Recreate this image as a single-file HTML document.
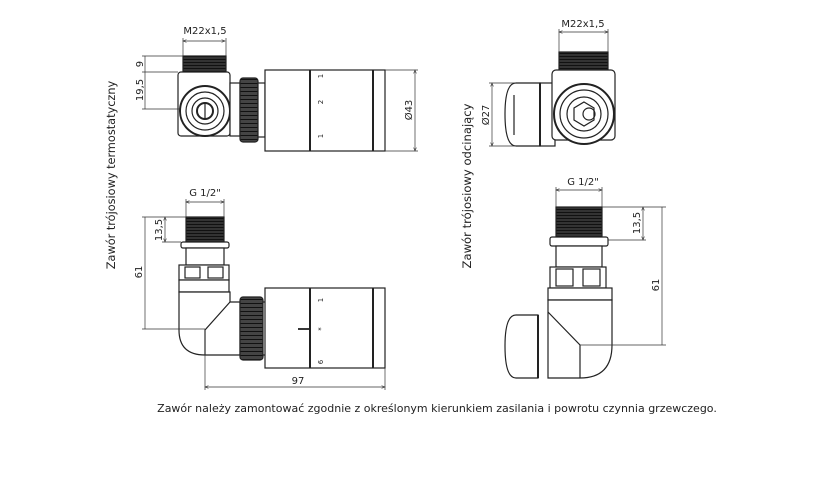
<!DOCTYPE html>
<html><head><meta charset="utf-8"><style>
html,body{margin:0;padding:0;background:#fff;}
svg{display:block;}
text{font-family:"DejaVu Sans","Liberation Sans",sans-serif;fill:#222;}
</style></head><body>
<svg width="817" height="490" viewBox="0 0 817 490" xmlns="http://www.w3.org/2000/svg">
<defs>
<pattern id="thr" width="4" height="3" patternUnits="userSpaceOnUse"><rect width="4" height="3" fill="#333"/><rect y="2" width="4" height="1" fill="#111"/></pattern>
<pattern id="knurl" width="3" height="4" patternUnits="userSpaceOnUse"><rect width="3" height="4" fill="#444"/><rect y="3" width="3" height="1" fill="#111"/></pattern>
<marker id="a" markerWidth="6" markerHeight="6" refX="5" refY="3" orient="auto-start-reverse"><path d="M0,1 L5,3 L0,5" fill="none" stroke="#333" stroke-width="0.8"/></marker>
</defs>
<g fill="none" stroke="#222" stroke-width="1.2">
<!-- TOP LEFT -->
<rect x="183" y="56" width="43" height="16" fill="url(#thr)"/>
<rect x="178" y="72" width="52" height="64" rx="3" fill="#fff"/>
<circle cx="205" cy="111" r="25" fill="#fff" stroke-width="2"/>
<circle cx="205" cy="111" r="19"/>
<circle cx="205" cy="111" r="13"/>
<circle cx="205" cy="111" r="8" stroke-width="2"/>
<line x1="205" y1="103" x2="205" y2="119"/>
<rect x="230" y="83" width="10" height="53" fill="#fff"/>
<rect x="240" y="78" width="18" height="64" rx="3" fill="url(#knurl)"/>
<rect x="258" y="83" width="7" height="54" fill="#fff"/>
<rect x="265" y="70" width="120" height="81" fill="#fff"/>
<line x1="310" y1="70" x2="310" y2="151" stroke-width="2"/>
<line x1="373" y1="70" x2="373" y2="151" stroke-width="2"/>
<!-- BOTTOM LEFT -->
<rect x="186" y="217" width="38" height="25" fill="url(#thr)"/>
<rect x="181" y="242" width="48" height="6" rx="2" fill="#fff"/>
<rect x="186" y="248" width="38" height="17" fill="#fff"/>
<rect x="179" y="265" width="50" height="15" fill="#fff"/>
<rect x="185" y="267" width="15" height="11"/>
<rect x="208" y="267" width="15" height="11"/>
<rect x="179" y="280" width="50" height="12" fill="#fff"/>
<path d="M179,292 H230 V302 H240 V355 H205 Q179,355 179,330 Z" fill="#fff"/>
<path d="M230,302 L205,330 V355"/>
<rect x="240" y="297" width="23" height="63" rx="3" fill="url(#knurl)"/>
<rect x="263" y="302" width="4" height="53" fill="#fff"/>
<rect x="265" y="288" width="120" height="80" fill="#fff"/>
<line x1="310" y1="288" x2="310" y2="368" stroke-width="2"/>
<line x1="373" y1="288" x2="373" y2="368" stroke-width="2"/>
<line x1="298" y1="329" x2="310" y2="329" stroke-width="1.8"/>
<!-- TOP RIGHT -->
<rect x="559" y="52" width="49" height="18" fill="url(#thr)"/>
<path d="M540,83 H516 Q505,83 505,114 Q505,146 516,146 H540 Z" fill="#fff"/>
<line x1="514" y1="95" x2="514" y2="135"/>
<rect x="540" y="83" width="15" height="63" fill="#fff"/>
<line x1="540" y1="83" x2="540" y2="146" stroke-width="2"/>
<rect x="552" y="70" width="63" height="70" rx="4" fill="#fff"/>
<circle cx="584" cy="114" r="30" fill="#fff" stroke-width="2"/>
<circle cx="584" cy="114" r="24"/>
<circle cx="584" cy="114" r="17"/>
<polygon points="584,102 594,108 594,120 584,126 574,120 574,108"/>
<circle cx="589" cy="114" r="6"/>
<!-- BOTTOM RIGHT -->
<rect x="556" y="207" width="46" height="30" fill="url(#thr)"/>
<rect x="550" y="237" width="58" height="9" rx="2" fill="#fff"/>
<rect x="556" y="246" width="46" height="21" fill="#fff"/>
<rect x="550" y="267" width="56" height="21" fill="#fff"/>
<rect x="556" y="269" width="17" height="17"/>
<rect x="583" y="269" width="17" height="17"/>
<rect x="548" y="288" width="64" height="12" fill="#fff"/>
<path d="M548,300 H612 V345 Q612,378 580,378 H548 Z" fill="#fff"/>
<path d="M548,312 L580,345 V378"/>
<path d="M538,315 H516 Q505,315 505,346 Q505,378 516,378 H538 Z" fill="#fff"/>
<line x1="538" y1="315" x2="538" y2="378" stroke-width="2"/>
</g>
<!-- dimensions -->
<g stroke="#333" stroke-width="0.7" fill="none">
<line x1="183" y1="41" x2="225" y2="41" marker-start="url(#a)" marker-end="url(#a)"/>
<line x1="183" y1="38" x2="183" y2="56"/><line x1="226" y1="38" x2="226" y2="56"/>
<line x1="142" y1="56" x2="183" y2="56"/><line x1="142" y1="72" x2="178" y2="72"/><line x1="142" y1="109" x2="180" y2="109"/>
<line x1="145" y1="56" x2="145" y2="109"/>
<line x1="385" y1="70" x2="418" y2="70"/><line x1="385" y1="151" x2="418" y2="151"/>
<line x1="415" y1="70" x2="415" y2="151" marker-start="url(#a)" marker-end="url(#a)"/>
<line x1="186" y1="202" x2="224" y2="202" marker-start="url(#a)" marker-end="url(#a)"/>
<line x1="186" y1="199" x2="186" y2="217"/><line x1="224" y1="199" x2="224" y2="217"/>
<line x1="142" y1="217" x2="186" y2="217"/><line x1="162" y1="242" x2="181" y2="242"/>
<line x1="165" y1="217" x2="165" y2="242" marker-start="url(#a)" marker-end="url(#a)"/>
<line x1="145" y1="217" x2="145" y2="329"/><line x1="142" y1="329" x2="205" y2="329"/>
<line x1="205" y1="330" x2="205" y2="390"/><line x1="385" y1="368" x2="385" y2="390"/>
<line x1="205" y1="387" x2="385" y2="387" marker-start="url(#a)" marker-end="url(#a)"/>
<line x1="559" y1="32" x2="608" y2="32" marker-start="url(#a)" marker-end="url(#a)"/>
<line x1="559" y1="29" x2="559" y2="52"/><line x1="608" y1="29" x2="608" y2="52"/>
<line x1="489" y1="83" x2="516" y2="83"/><line x1="489" y1="146" x2="516" y2="146"/>
<line x1="492" y1="83" x2="492" y2="146" marker-start="url(#a)" marker-end="url(#a)"/>
<line x1="556" y1="190" x2="602" y2="190" marker-start="url(#a)" marker-end="url(#a)"/>
<line x1="556" y1="187" x2="556" y2="207"/><line x1="602" y1="187" x2="602" y2="207"/>
<line x1="602" y1="207" x2="666" y2="207"/><line x1="608" y1="240" x2="646" y2="240"/>
<line x1="643" y1="207" x2="643" y2="240" marker-start="url(#a)" marker-end="url(#a)"/>
<line x1="662" y1="207" x2="662" y2="345"/><line x1="580" y1="345" x2="666" y2="345"/>
</g>
<g font-size="10">
<text x="205" y="34" text-anchor="middle">M22x1,5</text>
<text x="583" y="27" text-anchor="middle">M22x1,5</text>
<text x="205" y="196" text-anchor="middle">G 1/2"</text>
<text x="583" y="185" text-anchor="middle">G 1/2"</text>
<text x="298" y="384" text-anchor="middle">97</text>
<text transform="translate(143,64) rotate(-90)" text-anchor="middle">9</text>
<text transform="translate(143,90) rotate(-90)" text-anchor="middle">19,5</text>
<text transform="translate(412,110) rotate(-90)" text-anchor="middle">Ø43</text>
<text transform="translate(162,230) rotate(-90)" text-anchor="middle">13,5</text>
<text transform="translate(142,272) rotate(-90)" text-anchor="middle">61</text>
<text transform="translate(489,115) rotate(-90)" text-anchor="middle">Ø27</text>
<text transform="translate(640,223) rotate(-90)" text-anchor="middle">13,5</text>
<text transform="translate(659,285) rotate(-90)" text-anchor="middle">61</text>
<text transform="translate(115,175) rotate(-90)" text-anchor="middle" font-size="11.3">Zawór trójosiowy termostatyczny</text>
<text transform="translate(471,186) rotate(-90)" text-anchor="middle" font-size="11.6">Zawór trójosiowy odcinający</text>
<text x="437" y="412" text-anchor="middle" font-size="11">Zawór należy zamontować zgodnie z określonym kierunkiem zasilania i powrotu czynnia grzewczego.</text>
</g>
<g font-size="7">
<text transform="translate(323,76) rotate(-90)" text-anchor="middle">1</text>
<text transform="translate(323,102) rotate(-90)" text-anchor="middle">2</text>
<text transform="translate(323,136) rotate(-90)" text-anchor="middle">1</text>
<text transform="translate(323,300) rotate(-90)" text-anchor="middle">1</text>
<text transform="translate(323,329) rotate(-90)" text-anchor="middle">*</text>
<text transform="translate(323,362) rotate(-90)" text-anchor="middle">6</text>
</g>
</svg>
</body></html>
